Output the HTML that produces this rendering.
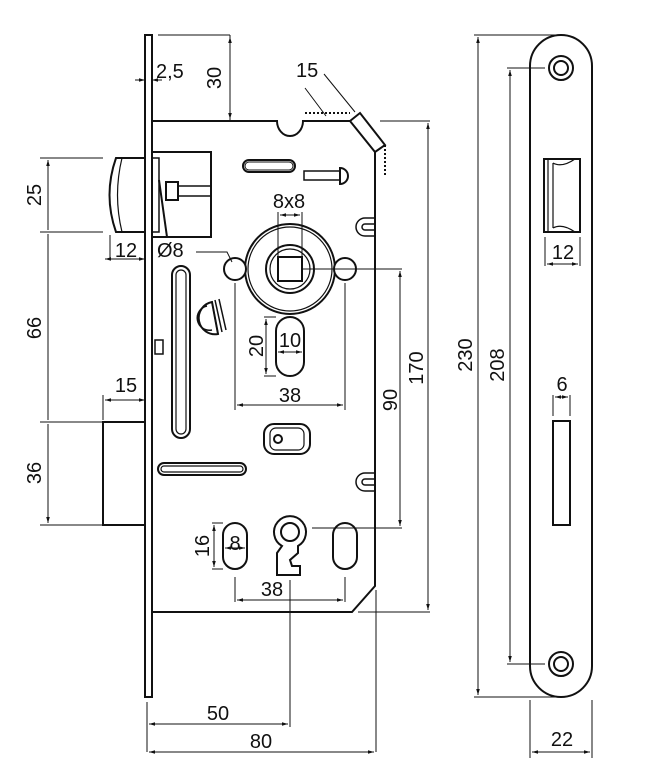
<!DOCTYPE html>
<html><head><meta charset="utf-8"><style>
html,body{margin:0;padding:0;background:#fff;}
svg{display:block;}
text{font-family:"Liberation Sans",sans-serif;font-size:20px;fill:#111;}
</style></head><body>
<svg width="671" height="782" viewBox="0 0 671 782" xmlns="http://www.w3.org/2000/svg">
<defs>
<marker id="a" viewBox="0 0 10 10" refX="10" refY="5" markerWidth="6" markerHeight="6" orient="auto-start-reverse"><path d="M0,2 L10,5 L0,8z" fill="#111"/></marker>
</defs>
<g fill="none" stroke="#111" stroke-width="2">
<rect x="145" y="35" width="7" height="662"/>
<path d="M152,121 H277 A13,15 0 0 0 303,121 H350"/>
<path d="M350,121 L360,113 L385,145 L375,152 L350,121"/>
<path d="M375,152 V586 L352,612 H152"/>
<path d="M385,145 V175" stroke-dasharray="2,2"/>
<path d="M305,113 H350" stroke-dasharray="2,2"/>
<rect x="152" y="152" width="59" height="85"/>
<path d="M145,158 H116 Q103,195 116,232 H145"/>
<path d="M122,158 Q113,195 122,232" stroke-width="1.2"/>
<rect x="152" y="158" width="7" height="74" stroke-width="1.5"/>
<path d="M159,180 L167,237" stroke-width="2"/>
<rect x="166" y="182" width="12" height="18"/>
<path d="M178,186 H211 M178,196 H211" stroke-width="1.5"/>
<rect x="103" y="422" width="42" height="103"/>
<rect x="243" y="160" width="52" height="12" rx="6"/>
<rect x="245" y="162" width="48" height="8" rx="4" stroke-width="1"/>
<rect x="304" y="171" width="36" height="9" stroke-width="1.5"/>
<path d="M340,168 A8,8 0 0 1 340,184 Z"/>
<path d="M375,218 H365 A9,9 0 0 0 365,236 H375 M375,224 H365 A3,3 0 0 0 365,230 H375" stroke-width="1.5"/>
<path d="M375,473 H365 A9,9 0 0 0 365,491 H375 M375,479 H365 A3,3 0 0 0 365,485 H375" stroke-width="1.5"/>
<circle cx="290" cy="269" r="45"/>
<circle cx="290" cy="269" r="42" stroke-width="1.2"/>
<circle cx="290" cy="269" r="24"/>
<circle cx="290" cy="269" r="20" stroke-width="1.2"/>
<rect x="278" y="257" width="24" height="24"/>
<circle cx="235" cy="269" r="11" fill="#fff"/>
<circle cx="345" cy="269" r="11" fill="#fff"/>
<rect x="172" y="266" width="18" height="172" rx="9"/>
<rect x="176" y="270" width="10" height="164" rx="5" stroke-width="1.2"/>
<path d="M212,302 A16,16 0 0 0 218,334 Z" fill="#fff"/>
<path d="M207,306 A12,12 0 0 0 212,330" stroke-width="1.5"/>
<path d="M212,302 L218,334 M215,300 L222,332 M219,299 L226,330" stroke-width="1.5"/>
<rect x="155" y="340" width="8" height="14" stroke-width="1.5"/>
<rect x="276" y="317" width="28" height="59" rx="14"/>
<rect x="264" y="424" width="46" height="30" rx="10"/>
<rect x="270" y="428" width="34" height="22" rx="6" stroke-width="1.2"/>
<circle cx="278" cy="439" r="4"/>
<rect x="158" y="463" width="88" height="12" rx="6"/>
<rect x="161" y="466" width="82" height="6" rx="3" stroke-width="1.2"/>
<rect x="223" y="523" width="24" height="46" rx="12"/>
<rect x="333" y="523" width="24" height="46" rx="12"/>
<path d="M282,546 A16,16 0 1 1 298,546 L298,553 L290,560 L292,566 L300,566 V575 H277 V553 Z"/>
<circle cx="290" cy="532" r="9"/>
<path d="M530,66 A31,31 0 0 1 592,66 V666 A31,31 0 0 1 530,666 Z"/>
<circle cx="561" cy="68" r="12"/><circle cx="561" cy="68" r="7"/>
<circle cx="561" cy="664" r="12"/><circle cx="561" cy="664" r="7"/>
<path d="M544,159 H580 V232 H544 Z"/>
<path d="M548,159 V232 M553,163 Q562,168 575,159 M553,228 Q562,223 575,232 M553,163 V228" stroke-width="1.2"/>
<rect x="553" y="421" width="17" height="104"/>
</g>
<g fill="none" stroke="#111" stroke-width="1">
<path d="M158,35 H230 M230,35 V121"/>
<path d="M230,37 V119" marker-start="url(#a)" marker-end="url(#a)"/>
<path d="M135,80 H145" marker-end="url(#a)"/><path d="M162,80 H152" marker-end="url(#a)"/>
<path d="M324,74 L355,112 M305,88 L326,116"/>
<path d="M40,158 H103 M40,232 H103 M40,422 H103 M40,525 H103"/>
<path d="M48,160 V230 M48,234 V420 M48,424 V523" marker-start="url(#a)" marker-end="url(#a)"/>
<path d="M110,235 V260"/><path d="M105,259 H145" marker-start="url(#a)" marker-end="url(#a)"/>
<path d="M103,395 V420"/><path d="M105,400 H145" marker-start="url(#a)" marker-end="url(#a)"/>
<path d="M196,252 H227 L232,262"/>
<path d="M278,212 V257 M302,212 V257"/><path d="M280,215 H300" marker-start="url(#a)" marker-end="url(#a)"/>
<path d="M235,283 V410 M345,283 V410"/><path d="M237,405 H343" marker-start="url(#a)" marker-end="url(#a)"/>
<path d="M264,317 H276 M264,376 H276"/><path d="M266,319 V374" marker-start="url(#a)" marker-end="url(#a)"/>
<path d="M278,352 H302" marker-start="url(#a)" marker-end="url(#a)"/>
<path d="M302,269 H402 M312,528 H402"/><path d="M400,271 V526" marker-start="url(#a)" marker-end="url(#a)"/>
<path d="M380,121 H430 M358,612 H430"/><path d="M428,123 V610" marker-start="url(#a)" marker-end="url(#a)"/>
<path d="M212,523 H223 M212,569 H223"/><path d="M214,525 V567" marker-start="url(#a)" marker-end="url(#a)"/>
<path d="M225,548 H245" marker-start="url(#a)" marker-end="url(#a)"/>
<path d="M235,577 V602 M345,577 V602"/><path d="M237,600 H343" marker-start="url(#a)" marker-end="url(#a)"/>
<path d="M290,580 V727 M147,702 V752 M376,590 V752"/>
<path d="M149,724 H288" marker-start="url(#a)" marker-end="url(#a)"/>
<path d="M149,752 H374" marker-start="url(#a)" marker-end="url(#a)"/>
<path d="M474,35 H561 M474,697 H561"/><path d="M478,37 V695" marker-start="url(#a)" marker-end="url(#a)"/>
<path d="M507,68 H545 M507,664 H545"/><path d="M510,70 V662" marker-start="url(#a)" marker-end="url(#a)"/>
<path d="M545,237 V266 M580,237 V266"/><path d="M547,264 H578" marker-start="url(#a)" marker-end="url(#a)"/>
<path d="M553,395 V416 M570,395 V416"/><path d="M555,397 H568" marker-start="url(#a)" marker-end="url(#a)"/>
<path d="M530,700 V758 M592,700 V758"/><path d="M532,752 H590" marker-start="url(#a)" marker-end="url(#a)"/>
</g>
<text x="156" y="78">2,5</text>
<text transform="translate(221,78) rotate(-90)" text-anchor="middle">30</text>
<text x="296" y="77">15</text>
<text x="289" y="208" text-anchor="middle">8x8</text>
<text x="157" y="257">Ø8</text>
<text x="126" y="257" text-anchor="middle">12</text>
<text transform="translate(41,195) rotate(-90)" text-anchor="middle">25</text>
<text transform="translate(41,328) rotate(-90)" text-anchor="middle">66</text>
<text transform="translate(41,473) rotate(-90)" text-anchor="middle">36</text>
<text x="126" y="392" text-anchor="middle">15</text>
<text transform="translate(263,346) rotate(-90)" text-anchor="middle">20</text>
<text x="290" y="347" text-anchor="middle">10</text>
<text x="290" y="402" text-anchor="middle">38</text>
<text transform="translate(397,400) rotate(-90)" text-anchor="middle">90</text>
<text transform="translate(423,368) rotate(-90)" text-anchor="middle">170</text>
<text transform="translate(209,546) rotate(-90)" text-anchor="middle">16</text>
<text x="235" y="550" text-anchor="middle">8</text>
<text x="272" y="596" text-anchor="middle">38</text>
<text x="218" y="720" text-anchor="middle">50</text>
<text x="261" y="748" text-anchor="middle">80</text>
<text transform="translate(472,355) rotate(-90)" text-anchor="middle">230</text>
<text transform="translate(504,365) rotate(-90)" text-anchor="middle">208</text>
<text x="563" y="259" text-anchor="middle">12</text>
<text x="562" y="391" text-anchor="middle">6</text>
<text x="562" y="746" text-anchor="middle">22</text>
</svg>
</body></html>
